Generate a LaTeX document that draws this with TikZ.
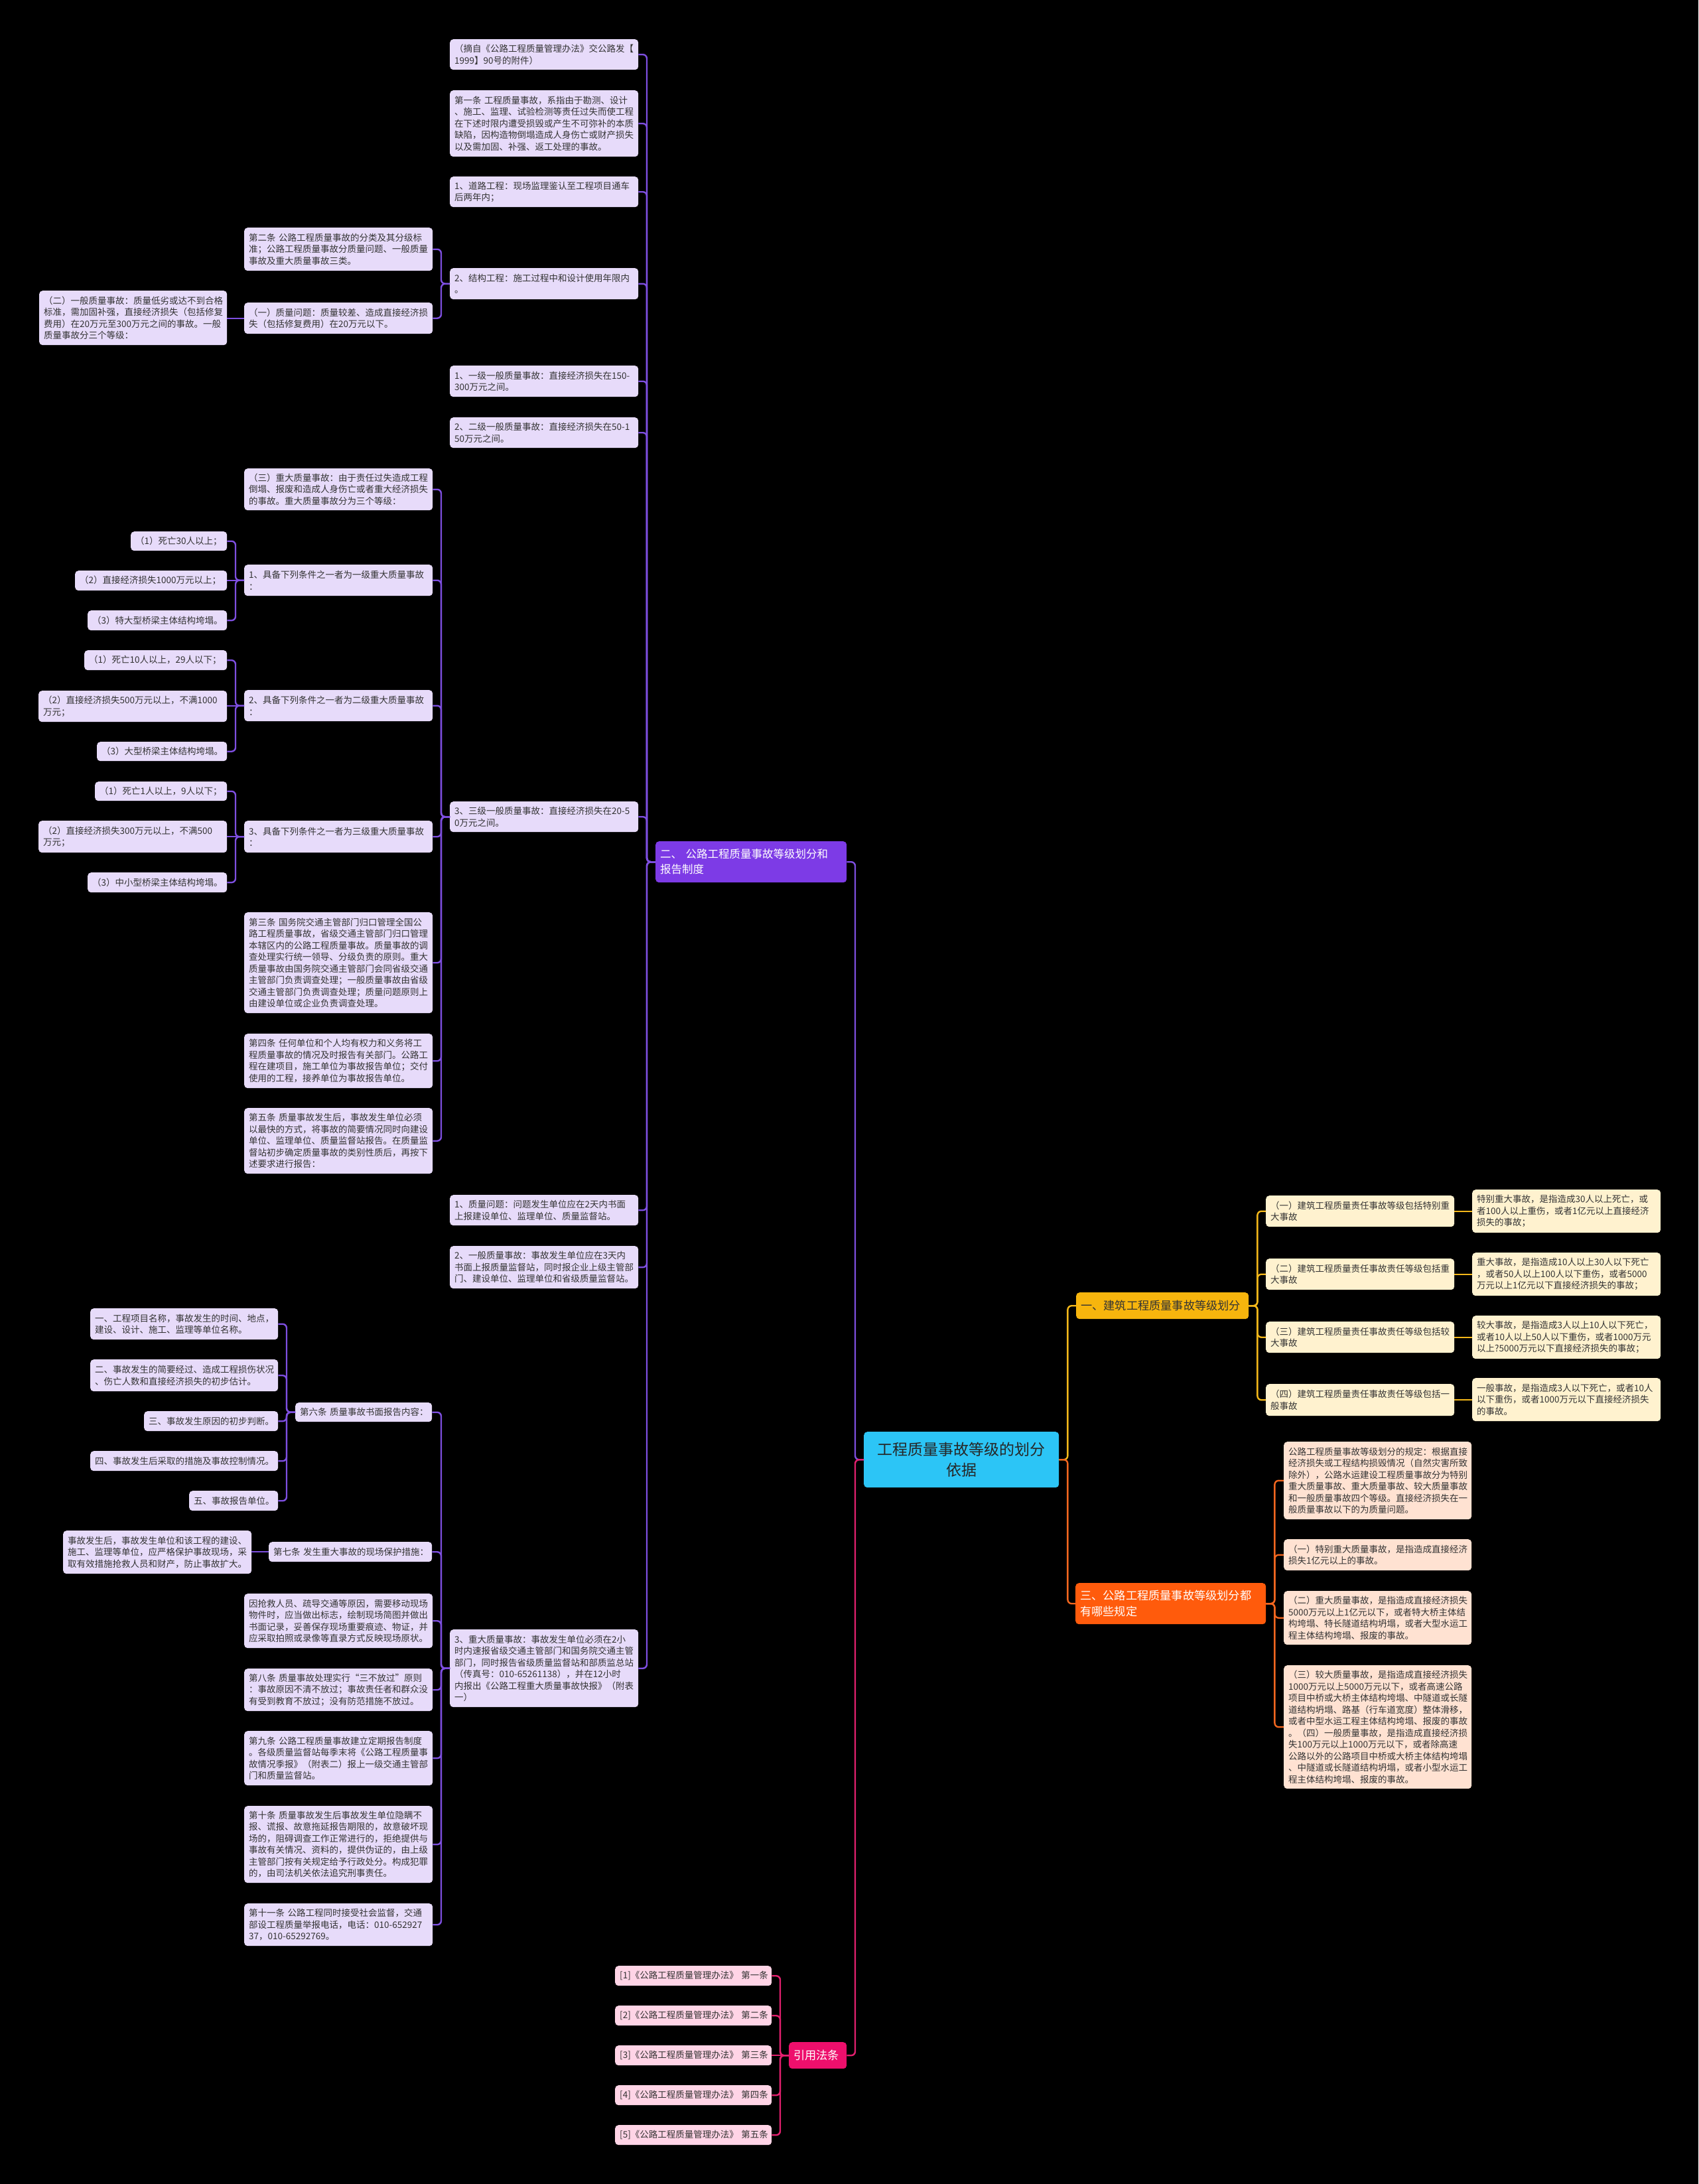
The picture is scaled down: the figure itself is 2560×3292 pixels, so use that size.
\documentclass[tikz,border=0pt]{standalone}
\usepackage{fontspec}
\setmainfont{Noto Sans CJK SC}
\definecolor{pline}{HTML}{7E4FE0}
\definecolor{pmain}{HTML}{7D3BE6}
\definecolor{pleaf}{HTML}{E7DBFA}
\definecolor{gline}{HTML}{F3B71A}
\definecolor{gmain}{HTML}{F7B50D}
\definecolor{gleaf}{HTML}{FFF2CF}
\definecolor{oline}{HTML}{F2661F}
\definecolor{omain}{HTML}{FF5B0C}
\definecolor{oleaf}{HTML}{FFE2D2}
\definecolor{mline}{HTML}{E4206F}
\definecolor{mmain}{HTML}{EE0F6C}
\definecolor{mleaf}{HTML}{FFD4E6}
\definecolor{cmain}{HTML}{2CC5F6}
\definecolor{txt}{HTML}{333333}
\newcommand\fsA{\fontsize{13.5}{17.5}\selectfont}
\newcommand\fsB{\fontsize{16.5}{23}\selectfont}
\newcommand\fsC{\fontsize{17.2}{24}\selectfont}
\newcommand\fsD{\fontsize{23}{31}\selectfont}
\newcommand\bx[7]{%
 \pgfmathsetmacro\bxw{#5-#3-14}%
 \pgfmathsetmacro\bxh{#6-#4}%
 \node[#1,text width=\bxw pt,minimum height=\bxh pt] (#2) at (#3,#4) {#7};}
\newcommand\conL[3]{\draw[#1] (#2.west) -- ++(-13,0) |- (#3.east);}
\newcommand\conR[3]{\draw[#1] (#2.east) -- ++(13,0) |- (#3.west);}
\newcommand\conS[3]{\draw[#1] (#2.west) -- (#3.east |- #2.west);}
\newcommand\conT[3]{\draw[#1] (#2.east) -- (#3.west |- #2.east);}
\tikzset{
 box/.style={anchor=north west, rounded corners=5pt, inner xsep=7pt, inner ysep=0pt, align=left, font=\fsA, text=txt},
 pl/.style={box, fill=pleaf},
 gl/.style={box, fill=gleaf},
 ol/.style={box, fill=oleaf},
 ml/.style={box, fill=mleaf},
 purplemain/.style={box, fill=pmain, font=\fsB, text=white},
 goldmain/.style={box, fill=gmain, font=\fsC, text=txt},
 orangemain/.style={box, fill=omain, font=\fsC, text=white},
 magmain/.style={box, fill=mmain, font=\fsC, text=white},
 centermain/.style={box, fill=cmain, font=\fsD, text=black!85, align=center},
 conn/.style={line width=2.4pt, rounded corners=6pt},
 pconn/.style={conn, draw=pline},
 gconn/.style={conn, draw=gline},
 oconn/.style={conn, draw=oline},
 mconn/.style={conn, draw=mline},
}
\begin{document}
\begin{tikzpicture}[x=1pt,y=-1pt]
\useasboundingbox (0,0) rectangle (2560,3292);
\fill[black] (0,0) rectangle (2560,3292);

% center and main branches
\bx{centermain}{c}{1302}{2158}{1596}{2242}{工程质量事故等级的划分\\依据}
\bx{purplemain}{er}{988}{1268}{1276}{1330}{二、~公路工程质量事故等级划分和\\报告制度}
\bx{goldmain}{i0}{1622}{1948}{1882}{1988}{一、建筑工程质量事故等级划分}
\bx{orangemain}{k0}{1621}{2386}{1908}{2448}{三、公路工程质量事故等级划分都\\有哪些规定}
\bx{magmain}{yy}{1189}{3078}{1276}{3118}{引用法条}

% purple column A
\bx{pl}{a1}{678}{59}{962}{105}{（摘自《公路工程质量管理办法》交公路发【\\1999】90号的附件）}
\bx{pl}{a2}{678}{136}{962}{236}{第一条~工程质量事故，系指由于勘测、设计\\、施工、监理、试验检测等责任过失而使工程\\在下述时限内遭受损毁或产生不可弥补的本质\\缺陷，因构造物倒塌造成人身伤亡或财产损失\\以及需加固、补强、返工处理的事故。}
\bx{pl}{a3}{678}{266}{962}{312}{1、道路工程：现场监理鉴认至工程项目通车\\后两年内；}
\bx{pl}{a4}{678}{404}{962}{451}{2、结构工程：施工过程中和设计使用年限内\\。}
\bx{pl}{a5}{678}{551}{962}{598}{1、一级一般质量事故：直接经济损失在150-\\300万元之间。}
\bx{pl}{a6}{678}{629}{962}{675}{2、二级一般质量事故：直接经济损失在50-1\\50万元之间。}
\bx{pl}{a7}{678}{1208}{962}{1254}{3、三级一般质量事故：直接经济损失在20-5\\0万元之间。}
\bx{pl}{e4}{678}{1801}{962}{1847}{1、质量问题：问题发生单位应在2天内书面\\上报建设单位、监理单位、质量监督站。}
\bx{pl}{e5}{678}{1878}{962}{1942}{2、一般质量事故：事故发生单位应在3天内\\书面上报质量监督站，同时报企业上级主管部\\门、建设单位、监理单位和省级质量监督站。}
\bx{pl}{g6}{678}{2456}{962}{2573}{3、重大质量事故：事故发生单位必须在2小\\时内速报省级交通主管部门和国务院交通主管\\部门，同时报告省级质量监督站和部质监总站\\（传真号：010-65261138），并在12小时\\内报出《公路工程重大质量事故快报》（附表\\一）}

% purple column B
\bx{pl}{b1}{368}{343}{652}{408}{第二条~公路工程质量事故的分类及其分级标\\准；公路工程质量事故分质量问题、一般质量\\事故及重大质量事故三类。}
\bx{pl}{b2}{368}{456}{652}{503}{（一）质量问题：质量较差、造成直接经济损\\失（包括修复费用）在20万元以下。}
\bx{pl}{b3}{59}{438}{342}{520}{（二）一般质量事故：质量低劣或达不到合格\\标准，需加固补强，直接经济损失（包括修复\\费用）在20万元至300万元之间的事故。一般\\质量事故分三个等级：}
\bx{pl}{c1}{368}{706}{652}{769}{（三）重大质量事故：由于责任过失造成工程\\倒塌、报废和造成人身伤亡或者重大经济损失\\的事故。重大质量事故分为三个等级：}
\bx{pl}{c2}{368}{851}{652}{898}{1、具备下列条件之一者为一级重大质量事故\\：}
\bx{pl}{c3}{368}{1040}{652}{1087}{2、具备下列条件之一者为二级重大质量事故\\：}
\bx{pl}{c4}{368}{1237}{652}{1285}{3、具备下列条件之一者为三级重大质量事故\\：}
\bx{pl}{e1}{368}{1375}{652}{1527}{第三条~国务院交通主管部门归口管理全国公\\路工程质量事故，省级交通主管部门归口管理\\本辖区内的公路工程质量事故。质量事故的调\\查处理实行统一领导、分级负责的原则。重大\\质量事故由国务院交通主管部门会同省级交通\\主管部门负责调查处理；一般质量事故由省级\\交通主管部门负责调查处理；质量问题原则上\\由建设单位或企业负责调查处理。}
\bx{pl}{e2}{368}{1558}{652}{1640}{第四条~任何单位和个人均有权力和义务将工\\程质量事故的情况及时报告有关部门。公路工\\程在建项目，施工单位为事故报告单位；交付\\使用的工程，接养单位为事故报告单位。}
\bx{pl}{e3}{368}{1670}{652}{1769}{第五条~质量事故发生后，事故发生单位必须\\以最快的方式，将事故的简要情况同时向建设\\单位、监理单位、质量监督站报告。在质量监\\督站初步确定质量事故的类别性质后，再按下\\述要求进行报告：}

% purple column D
\bx{pl}{d1}{197}{801}{342}{830}{（1）死亡30人以上；}
\bx{pl}{d2}{113}{860}{342}{890}{（2）直接经济损失1000万元以上；}
\bx{pl}{d3}{132}{920}{342}{950}{（3）特大型桥梁主体结构垮塌。}
\bx{pl}{d4}{127}{980}{342}{1010}{（1）死亡10人以上，29人以下；}
\bx{pl}{d5}{58}{1041}{342}{1088}{（2）直接经济损失500万元以上，不满1000\\万元；}
\bx{pl}{d6}{146}{1118}{342}{1147}{（3）大型桥梁主体结构垮塌。}
\bx{pl}{d7}{143}{1178}{342}{1207}{（1）死亡1人以上，9人以下；}
\bx{pl}{d8}{58}{1237}{342}{1285}{（2）直接经济损失300万元以上，不满500\\万元；}
\bx{pl}{d9}{132}{1315}{342}{1345}{（3）中小型桥梁主体结构垮塌。}

% purple column F/G
\bx{pl}{f1}{136}{1972}{419}{2019}{一、工程项目名称，事故发生的时间、地点，\\建设、设计、施工、监理等单位名称。}
\bx{pl}{f2}{136}{2049}{419}{2097}{二、事故发生的简要经过、造成工程损伤状况\\、伤亡人数和直接经济损失的初步估计。}
\bx{pl}{f3}{217}{2127}{419}{2157}{三、事故发生原因的初步判断。}
\bx{pl}{f4}{136}{2187}{419}{2217}{四、事故发生后采取的措施及事故控制情况。}
\bx{pl}{f5}{285}{2247}{419}{2277}{五、事故报告单位。}
\bx{pl}{f6}{445}{2114}{651}{2143}{第六条~质量事故书面报告内容：}
\bx{pl}{f7}{405}{2324}{651}{2354}{第七条~发生重大事故的现场保护措施：}
\bx{pl}{f8}{95}{2307}{379}{2372}{事故发生后，事故发生单位和该工程的建设、\\施工、监理等单位，应严格保护事故现场，采\\取有效措施抢救人员和财产，防止事故扩大。}
\bx{pl}{g1}{368}{2402}{652}{2484}{因抢救人员、疏导交通等原因，需要移动现场\\物件时，应当做出标志，绘制现场简图并做出\\书面记录，妥善保存现场重要痕迹、物证，并\\应采取拍照或录像等直录方式反映现场原状。}
\bx{pl}{g2}{368}{2515}{652}{2579}{第八条~质量事故处理实行“三不放过”原则\\：事故原因不清不放过；事故责任者和群众没\\有受到教育不放过；没有防范措施不放过。}
\bx{pl}{g3}{368}{2609}{652}{2691}{第九条~公路工程质量事故建立定期报告制度\\。各级质量监督站每季末将《公路工程质量事\\故情况季报》（附表二）报上一级交通主管部\\门和质量监督站。}
\bx{pl}{g4}{368}{2722}{652}{2838}{第十条~质量事故发生后事故发生单位隐瞒不\\报、谎报、故意拖延报告期限的，故意破坏现\\场的，阻碍调查工作正常进行的，拒绝提供与\\事故有关情况、资料的，提供伪证的，由上级\\主管部门按有关规定给予行政处分。构成犯罪\\的，由司法机关依法追究刑事责任。}
\bx{pl}{g5}{368}{2869}{652}{2933}{第十一条~公路工程同时接受社会监督，交通\\部设工程质量举报电话，电话：010-652927\\37，010-65292769。}

% magenta leaves
\bx{ml}{h1}{927}{2963}{1163}{2993}{[1]《公路工程质量管理办法》~第一条}
\bx{ml}{h2}{927}{3023}{1163}{3053}{[2]《公路工程质量管理办法》~第二条}
\bx{ml}{h3}{927}{3083}{1163}{3113}{[3]《公路工程质量管理办法》~第三条}
\bx{ml}{h4}{927}{3143}{1163}{3173}{[4]《公路工程质量管理办法》~第四条}
\bx{ml}{h5}{927}{3203}{1163}{3233}{[5]《公路工程质量管理办法》~第五条}

% gold leaves
\bx{gl}{i1}{1908}{1802}{2192}{1849}{（一）建筑工程质量责任事故等级包括特别重\\大事故}
\bx{gl}{i2}{1908}{1897}{2192}{1944}{（二）建筑工程质量责任事故责任等级包括重\\大事故}
\bx{gl}{i3}{1908}{1992}{2192}{2039}{（三）建筑工程质量责任事故责任等级包括较\\大事故}
\bx{gl}{i4}{1908}{2086}{2192}{2134}{（四）建筑工程质量责任事故责任等级包括一\\般事故}
\bx{gl}{j1}{2219}{1793}{2503}{1858}{特别重大事故，是指造成30人以上死亡，或\\者100人以上重伤，或者1亿元以上直接经济\\损失的事故；}
\bx{gl}{j2}{2219}{1888}{2503}{1953}{重大事故，是指造成10人以上30人以下死亡\\，或者50人以上100人以下重伤，或者5000\\万元以上1亿元以下直接经济损失的事故；}
\bx{gl}{j3}{2219}{1983}{2503}{2048}{较大事故，是指造成3人以上10人以下死亡，\\或者10人以上50人以下重伤，或者1000万元\\以上?5000万元以下直接经济损失的事故；}
\bx{gl}{j4}{2219}{2077}{2503}{2142}{一般事故，是指造成3人以下死亡，或者10人\\以下重伤，或者1000万元以下直接经济损失\\的事故。}

% orange leaves
\bx{ol}{l1}{1935}{2173}{2218}{2290}{公路工程质量事故等级划分的规定：根据直接\\经济损失或工程结构损毁情况（自然灾害所致\\除外），公路水运建设工程质量事故分为特别\\重大质量事故、重大质量事故、较大质量事故\\和一般质量事故四个等级。直接经济损失在一\\般质量事故以下的为质量问题。}
\bx{ol}{l2}{1935}{2320}{2218}{2367}{（一）特别重大质量事故，是指造成直接经济\\损失1亿元以上的事故。}
\bx{ol}{l3}{1935}{2398}{2218}{2479}{（二）重大质量事故，是指造成直接经济损失\\5000万元以上1亿元以下，或者特大桥主体结\\构垮塌、特长隧道结构坍塌，或者大型水运工\\程主体结构垮塌、报废的事故。}
\bx{ol}{l4}{1935}{2510}{2218}{2696}{（三）较大质量事故，是指造成直接经济损失\\1000万元以上5000万元以下，或者高速公路\\项目中桥或大桥主体结构垮塌、中隧道或长隧\\道结构坍塌、路基（行车道宽度）整体滑移，\\或者中型水运工程主体结构垮塌、报废的事故\\。（四）一般质量事故，是指造成直接经济损\\失100万元以上1000万元以下，或者除高速\\公路以外的公路项目中桥或大桥主体结构垮塌\\、中隧道或长隧道结构坍塌，或者小型水运工\\程主体结构垮塌、报废的事故。}

% connectors
\conL{pconn}{c}{er}
\conL{mconn}{c}{yy}
\conR{gconn}{c}{i0}
\conR{oconn}{c}{k0}
\foreach \n in {a1,a2,a3,a4,a5,a6,a7,e4,e5,g6} {\conL{pconn}{er}{\n}}
\foreach \n in {b1,b2} {\conL{pconn}{a4}{\n}}
\conS{pconn}{b2}{b3}
\foreach \n in {c1,c2,c3,c4,e1,e2,e3} {\conL{pconn}{a7}{\n}}
\foreach \n in {d1,d3} {\conL{pconn}{c2}{\n}}
\conS{pconn}{c2}{d2}
\foreach \n in {d4,d6} {\conL{pconn}{c3}{\n}}
\conS{pconn}{c3}{d5}
\foreach \n in {d7,d9} {\conL{pconn}{c4}{\n}}
\conS{pconn}{c4}{d8}
\foreach \n in {f6,f7,g1,g2,g3,g4,g5} {\conL{pconn}{g6}{\n}}
\foreach \n in {f1,f2,f3,f4,f5} {\conL{pconn}{f6}{\n}}
\conS{pconn}{f7}{f8}
\foreach \n in {h1,h2,h4,h5} {\conL{mconn}{yy}{\n}}
\conS{mconn}{yy}{h3}
\foreach \n in {i1,i2,i3,i4} {\conR{gconn}{i0}{\n}}
\conT{gconn}{i1}{j1}
\conT{gconn}{i2}{j2}
\conT{gconn}{i3}{j3}
\conT{gconn}{i4}{j4}
\foreach \n in {l1,l2,l3,l4} {\conR{oconn}{k0}{\n}}
\end{tikzpicture}
\end{document}
